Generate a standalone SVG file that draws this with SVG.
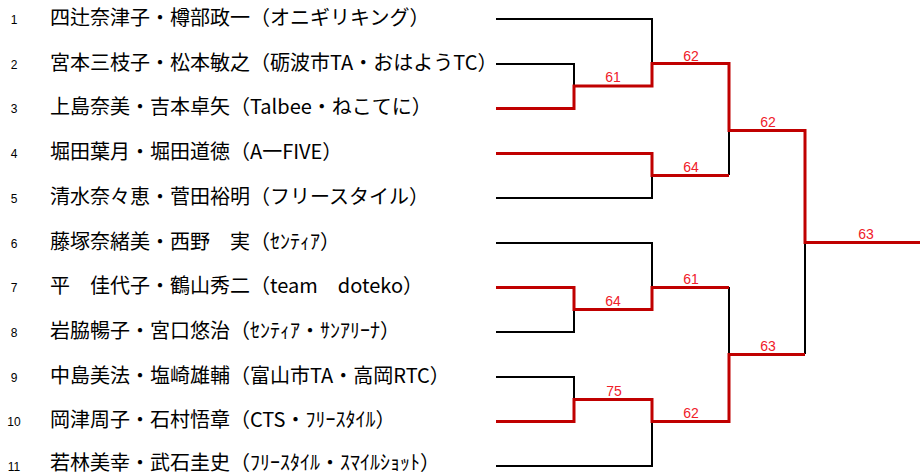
<svg xmlns="http://www.w3.org/2000/svg" width="920" height="476" viewBox="0 0 920 476">
<style>
.num{font-family:"Liberation Sans",Arial,sans-serif;font-size:12px;fill:#000;text-anchor:middle}
.name{font-family:"Noto Sans CJK JP","Noto Sans CJK SC",sans-serif;font-size:20px;fill:#000}
.lose{fill:none;stroke:#000;stroke-width:2}
.win{fill:none;stroke:#C00000;stroke-width:3}
.score{font-family:"Liberation Sans",Arial,sans-serif;font-size:14px;fill:#F0202A;text-anchor:middle}
</style>
<rect width="920" height="476" fill="#fff"/>
<g id="p1"><text class="num" x="14" y="23.5">1</text><text class="name" x="50" y="25">四辻奈津子・樽部政一（オニギリキング）</text></g>
<g id="p2"><text class="num" x="14" y="68.5">2</text><text class="name" x="50" y="70">宮本三枝子・松本敏之（砺波市TA・おはようTC）</text></g>
<g id="p3"><text class="num" x="14" y="112.5">3</text><text class="name" x="50" y="114">上島奈美・吉本卓矢（Talbee・ねこてに）</text></g>
<g id="p4"><text class="num" x="14" y="157.5">4</text><text class="name" x="50" y="159">堀田葉月・堀田道徳（A一FIVE）</text></g>
<g id="p5"><text class="num" x="14" y="202.5">5</text><text class="name" x="50" y="204">清水奈々恵・菅田裕明（フリースタイル）</text></g>
<g id="p6"><text class="num" x="14" y="247.5">6</text><text class="name" x="50" y="249">藤塚奈緒美・西野　実（ｾﾝﾃｨｱ）</text></g>
<g id="p7"><text class="num" x="14" y="291.5">7</text><text class="name" x="50" y="293">平　佳代子・鶴山秀二（team　doteko）</text></g>
<g id="p8"><text class="num" x="14" y="336.5">8</text><text class="name" x="50" y="338">岩脇暢子・宮口悠治（ｾﾝﾃｨｱ・ｻﾝｱﾘｰﾅ）</text></g>
<g id="p9"><text class="num" x="14" y="381.5">9</text><text class="name" x="50" y="383">中島美法・塩崎雄輔（富山市TA・高岡RTC）</text></g>
<g id="p10"><text class="num" x="14" y="425.5">10</text><text class="name" x="50" y="427">岡津周子・石村悟章（CTS・ﾌﾘｰｽﾀｲﾙ）</text></g>
<g id="p11"><text class="num" x="14" y="470.5">11</text><text class="name" x="50" y="470">若林美幸・武石圭史（ﾌﾘｰｽﾀｲﾙ・ｽﾏｲﾙｼｮｯﾄ）</text></g>
<g id="connectors">
<path class="lose" d="M496,19 H652 V64"/>
<path class="lose" d="M496,64 H574 V86"/>
<path class="lose" d="M729,130 V175"/>
<path class="lose" d="M496,198 H652 V175"/>
<path class="lose" d="M496,243 H652 V287"/>
<path class="lose" d="M496,332 H574 V309"/>
<path class="lose" d="M729,287 V354"/>
<path class="lose" d="M805,242 V354"/>
<path class="lose" d="M496,377 H574 V399"/>
<path class="lose" d="M496,466 H652 V421"/>
<path class="win" d="M496,108.5 H574 V86 H652 V63.5 H729 V130.5 H805 V242.5 H920"/>
<path class="win" d="M496,153.5 H652 V175.5 H729"/>
<path class="win" d="M496,287.5 H574 V309.5 H652 V287.5 H729"/>
<path class="win" d="M496,421.5 H574 V399.5 H652 V421.5 H729 V354.5 H805"/>
</g>
<g id="scores">
<text class="score" x="613" y="82">61</text>
<text class="score" x="691" y="60.5">62</text>
<text class="score" x="768" y="127">62</text>
<text class="score" x="691" y="172">64</text>
<text class="score" x="866" y="239">63</text>
<text class="score" x="691" y="284">61</text>
<text class="score" x="613" y="306">64</text>
<text class="score" x="768" y="351">63</text>
<text class="score" x="614" y="396">75</text>
<text class="score" x="691" y="418">62</text>
</g>
</svg>
